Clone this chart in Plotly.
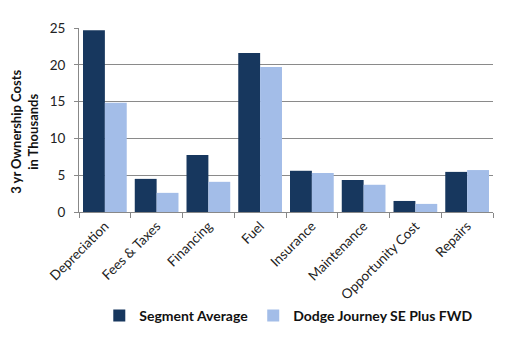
import plotly.graph_objects as go

categories = ["Depreciation", "Fees & Taxes", "Financing", "Fuel", "Insurance",
              "Maintenance", "Opportunity Cost", "Repairs"]
segment_avg = [24.7, 4.5, 7.75, 21.6, 5.6, 4.35, 1.5, 5.45]
dodge = [14.85, 2.6, 4.1, 19.7, 5.3, 3.7, 1.1, 5.7]
y_ticks = [0, 5, 10, 15, 20, 25]

font = "Lato, 'Open Sans', sans-serif"

fig = go.Figure()
fig.add_trace(go.Bar(x=categories, y=segment_avg, name="Segment Average",
                     marker=dict(color="#17375e", line=dict(width=0))))
fig.add_trace(go.Bar(x=categories, y=dodge, name="Dodge Journey SE Plus FWD",
                     marker=dict(color="#a3bde8", line=dict(width=0))))

fig.update_layout(
    width=512, height=351,
    margin=dict(l=79, r=19, t=28, b=139),
    paper_bgcolor="white", plot_bgcolor="white",
    barmode="group", bargap=0.155, bargroupgap=0,
    font=dict(family=font, color="#1a1a1a"),
    showlegend=True,
    legend=dict(orientation="h", x=0.049, xanchor="left", y=-0.565, yanchor="middle",
                font=dict(size=14, family=font, color="#111111", weight="bold"),
                itemwidth=30, tracegroupgap=0, bgcolor="rgba(0,0,0,0)"),
    xaxis=dict(type="category", ticks="outside", tickson="boundaries", ticklen=5,
               tickcolor="#888888", showline=True, linecolor="#888888", linewidth=1,
               tickangle=-45, tickfont=dict(size=13.5, color="#222222"),
               showgrid=False, range=[-0.5, 7.5]),
    yaxis=dict(range=[0, 25], tickvals=y_ticks, showgrid=True, gridcolor="#8a8a8a",
               gridwidth=1, showline=True, linecolor="#888888", ticks="outside",
               ticklen=4, tickcolor="#888888", tickfont=dict(size=13.5, color="#222222"),
               ticklabelstandoff=6, zeroline=False),
    annotations=[dict(text="<b>3 yr Ownership Costs<br>in Thousands</b>",
                      xref="paper", yref="paper", x=-0.086, y=0.435,
                      xanchor="right", yanchor="middle", textangle=-90, showarrow=False,
                      font=dict(size=13, family=font, color="#111111"))],
)

fig.write_html("out.html")
